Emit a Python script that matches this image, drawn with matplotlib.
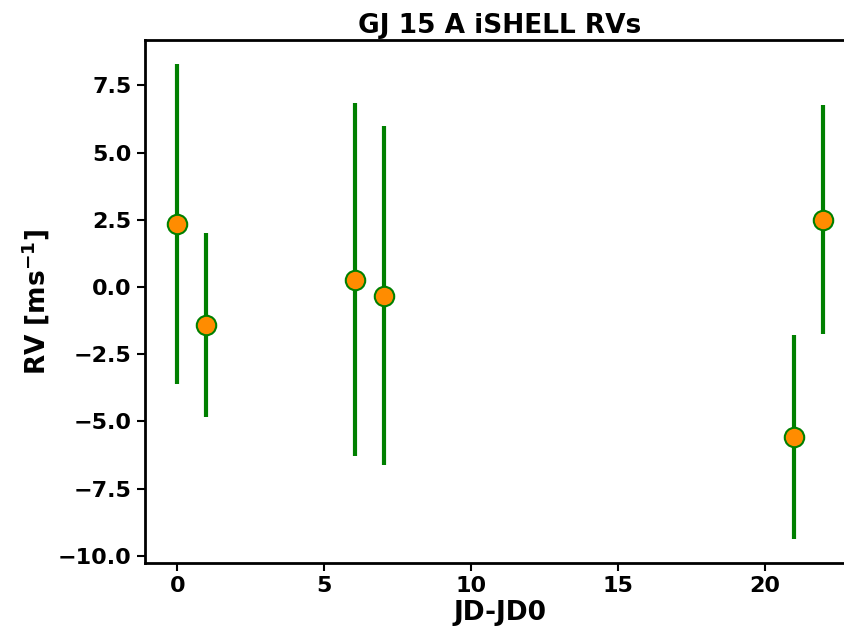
import matplotlib

matplotlib.use("Agg")
import matplotlib.pyplot as plt
import numpy as np

# Relative Julian date and RVs
jd = np.array([0.0, 0.99, 6.04, 7.03, 21.0, 21.98])
rv = np.array([2.35, -1.42, 0.27, -0.33, -5.58, 2.50])
rv_err = np.array([5.95, 3.43, 6.57, 6.30, 3.80, 4.25])

fig = plt.figure(figsize=(8.44, 6.38), dpi=100)
# axes run past the right edge, as in the reference crop
ax = fig.add_axes([145 / 844, 75 / 638, 710 / 844, 523 / 638])

ax.errorbar(jd, rv, yerr=rv_err, fmt="o", color="green", ecolor="green",
            elinewidth=3, markersize=14, markerfacecolor="darkorange",
            markeredgecolor="green", markeredgewidth=1.5)

ax.set_xlabel("JD-JD0", fontsize=19, fontweight="bold", labelpad=3)
ax.set_ylabel(r"RV [ms$^{\mathbf{-1}}$]", fontsize=19, fontweight="bold")
ax.set_title("GJ 15 A iSHELL RVs", fontsize=19, fontweight="bold", pad=5)
ax.set_yticks([7.5, 5.0, 2.5, 0.0, -2.5, -5.0, -7.5, -10.0])
ax.set_xticks([0, 5, 10, 15, 20])
for lab in ax.get_xticklabels() + ax.get_yticklabels():
    lab.set_fontweight("bold")
ax.tick_params(labelsize=16, width=1.5, length=6)
for s in ax.spines.values():
    s.set_linewidth(2)

fig.savefig("out.png", dpi=100)
